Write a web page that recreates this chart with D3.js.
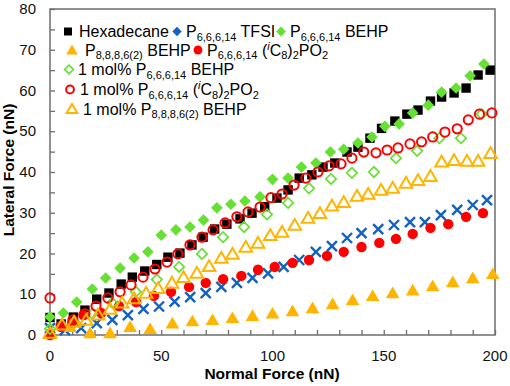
<!DOCTYPE html>
<html>
<head>
<meta charset="utf-8">
<script src="https://cdn.jsdelivr.net/npm/d3@7"></script>
<style>
  body { margin: 0; background: #fff; }
  svg { font-family: "Liberation Sans", Arial, sans-serif; }
</style>
</head>
<body>
<svg id="chart" width="510" height="386"></svg>
<script>
// data (normal force nN -> lateral force nN)
var hexX = [0,5,10.5,15.7,21,26.5,32,37,42.6,48,53,58.4,63.8,68.8,74,79.5,85.4,90.8,96.5,102,107,112,117.7,122.7,128,133.5,138.4,143.8,149,155,160.4,165.4,171,176,181.6,187,192.4,197.8];
var hexY = [4.3,2.7,4.4,6.1,8.8,10.3,12.5,14.2,15.7,17.3,19.1,20.1,22.1,24,26,27.2,28.5,29.9,31.5,33.6,35.6,38.5,39.3,41.2,42.2,44.9,46.1,48.3,50.7,52.5,54.2,55.2,57.4,58.4,59.4,60.6,63.8,65];

var tfsiX = [0,6.7,14,21,28,35,42,49,56,63,70,77,84,91,98,105,112,119.5,126.7,133.5,140,147.5,154.6,161.8,168.5,175.7,183,190,196.4];
var tfsiY = [1.7,1.2,1.7,2.9,3.7,4.9,6.4,7.0,8.2,9.3,10.3,11.8,12.8,14,15.1,16.7,18.4,20.4,21.8,23.8,25,26,27,27.7,27.7,29.4,30.7,31.9,33.1];

var behpX = [0,6,12,19,25,31.5,37.8,44,50,56.6,62.9,69,75,81.3,87.6,94.4,100,107,113,119.5,126,132,138.4,144.7,150.5,156.9,163,170,176,182.5,188.8,195];
var behpY = [4.4,5.4,8.1,11.3,14,16.4,18.9,20.4,24.5,25.8,26.5,28.2,31.2,32.1,32.9,33.9,38.2,38.5,41.2,42.2,44.9,45.6,47.1,48.6,51.2,51.8,54.5,56.4,59.6,60.6,63.6,66.5];

var p8X = [0,9,18,27,36,45,55,64,73,82,91,100,109,118,127,136,145,154,163,172,181,190,199];
var p8Y = [0.3,2,0.5,0.5,2,1.5,2.9,3.4,3.7,4.2,4.7,5.3,5.9,6.6,7.6,8.6,9.6,10.3,11,12,13,14,15];

var ic8X = [0,5,10,15,23,31,38.7,46.7,54.4,62.5,70,77.8,86,93.5,101,109,116.4,124.5,132,140,148,155.5,163,171,179,187,194.6];
var ic8Y = [0,2,3.0,4.9,5.4,7.1,8.1,9.6,10.6,11.8,12.8,13.7,14.5,16,16.7,17.7,18.4,19.4,20.4,21.6,22.6,23.6,24.8,26.3,27.2,29,29.9];

var behp1X = [0,10.8,19,28,38.6,48,58,68.3,77.8,87.2,97.5,107,116.4,126.3,135.7,145.6,155.5,165,175,184.7,194];
var behp1Y = [1.5,3.2,5.2,7.9,10.6,13.6,16.7,19.9,24,26.5,29.6,32.4,36,38.3,39.8,40,43.4,45.2,48.3,48.3,54.2];

var ic81X = [0,5,10.3,15.7,20.7,26,31.5,36.4,41.8,47.2,52.6,57.5,62.9,68.3,73.3,78.7,84,89,94.4,99.3,104.3,109.7,115,120.4,125.4,130.8,135.7,141,146.5,151.5,156.4,161.8,167,172,177.5,183,188,193,198.6];
var ic81Y = [9.1,2.2,3.7,5.2,7.1,9.1,10.6,12.3,14.2,16.2,17.9,19.9,22.1,24,25.8,27.5,29,30.2,31.4,33.7,34.6,36.8,38.5,40,41.5,42,43.4,44.9,44.7,45.4,45.9,46.9,47.4,48.6,49.8,50.6,52.8,54.2,54.5];

var p81X = [0,5.4,10.8,16.2,21.6,27,32.4,37.8,43.2,48.6,54.8,60,66,71.5,77,82,88,93.5,99,104.3,110,116,121.3,126.7,132,138,143,148.8,154,160,165.4,171,176,181.6,187.4,192.4,198];
var p81Y = [0.5,2.5,3.2,3.7,5,6.4,7.9,9,10.3,11.5,12.8,14.2,15.2,16.9,18.9,19.9,21.6,22.6,24.5,25.3,27,28.7,29.9,31.7,32.6,34.1,34.6,35.6,36.1,37.3,38,39,42.5,42.9,42.7,42.7,44.6];

var xTicks = [0,50,100,150,200];
var yTicks = [0,10,20,30,40,50,60,70,80];

var BLUE = "#1462c0", GREEN = "#66e033", RED = "#ff0000", ORANGE = "#ffb400";

var svg = d3.select("#chart");
var plotL = 50, plotR = 495, plotT = 9, plotB = 335;

var x = d3.scaleLinear().domain([0, 200]).range([plotL, plotR]);
var y = d3.scaleLinear().domain([0, 80]).range([plotB, plotT]);

// marker shapes, s = half size
var shapes = {
  square: function (s) { return "M" + (-s) + "," + (-s) + "h" + 2*s + "v" + 2*s + "h" + (-2*s) + "Z"; },
  diamond: function (s) { return "M0," + (-s) + "L" + s + ",0L0," + s + "L" + (-s) + ",0Z"; },
  triangle: function (s) { return "M0," + (-s) + "L" + (s*1.05) + "," + (s*0.8) + "L" + (-s*1.05) + "," + (s*0.8) + "Z"; },
  cross: function (s) { return "M" + (-s) + "," + (-s) + "L" + s + "," + s + "M" + s + "," + (-s) + "L" + (-s) + "," + s; },
  circle: function (s) { return d3.arc()({innerRadius: 0, outerRadius: s, startAngle: 0, endAngle: 2 * Math.PI}); }
};

var series = [
  { xs: hexX,   ys: hexY,   shape: "square",   size: 4.7, fill: "#000", stroke: "none", sw: 0 },
  { xs: tfsiX,  ys: tfsiY,  shape: "cross",    size: 5,   fill: "none", stroke: BLUE, sw: 2.4 },
  { xs: behpX,  ys: behpY,  shape: "diamond",  size: 5.8, fill: GREEN, stroke: "none", sw: 0 },
  { xs: p8X,    ys: p8Y,    shape: "triangle", size: 6.5, fill: ORANGE, stroke: "none", sw: 0 },
  { xs: ic8X,   ys: ic8Y,   shape: "circle",   size: 5.2, fill: RED, stroke: "none", sw: 0 },
  { xs: behp1X, ys: behp1Y, shape: "diamond",  size: 5.2, fill: "none", stroke: GREEN, sw: 1.7 },
  { xs: ic81X,  ys: ic81Y,  shape: "circle",   size: 4.6, fill: "none", stroke: RED, sw: 2 },
  { xs: p81X,   ys: p81Y,   shape: "triangle", size: 6,   fill: "none", stroke: ORANGE, sw: 2 }
];

// axes, ticks pointing inward
var axisCol = "#6e6e6e";
svg.append("rect").attr("x", plotL).attr("y", plotT)
  .attr("width", plotR - plotL).attr("height", plotB - plotT)
  .attr("fill", "none").attr("stroke", axisCol).attr("stroke-width", 1.5);

var gx = svg.append("g").attr("transform", "translate(0," + plotB + ")")
  .call(d3.axisBottom(x).tickValues(d3.range(0, 201, 10)).tickSize(-5).tickFormat(""));
var gy = svg.append("g").attr("transform", "translate(" + plotL + ",0)")
  .call(d3.axisLeft(y).tickValues(d3.range(0, 81, 5)).tickSize(-5).tickFormat(""));
[gx, gy].forEach(function (g) {
  g.select(".domain").remove();
  g.selectAll(".tick line").attr("stroke", axisCol).attr("stroke-width", 1.3);
});

svg.append("g").selectAll("text").data(xTicks).enter().append("text")
  .attr("x", function (d) { return x(d); }).attr("y", 361)
  .attr("text-anchor", "middle").attr("font-size", 15).attr("fill", "#111")
  .text(function (d) { return d; });
svg.append("g").selectAll("text").data(yTicks).enter().append("text")
  .attr("x", 36).attr("y", function (d) { return y(d) + 5; })
  .attr("text-anchor", "end").attr("font-size", 15).attr("fill", "#111")
  .text(function (d) { return d; });

svg.append("text").attr("x", 272).attr("y", 379).attr("text-anchor", "middle")
  .attr("font-size", 15.5).attr("font-weight", "bold").text("Normal Force (nN)");
svg.append("text").attr("transform", "translate(14,170) rotate(-90)").attr("text-anchor", "middle")
  .attr("font-size", 15.5).attr("font-weight", "bold").text("Lateral Force (nN)");

// points
series.forEach(function (s) {
  svg.append("g").selectAll("path").data(s.xs).enter().append("path")
    .attr("transform", function (d, i) { return "translate(" + x(d) + "," + y(s.ys[i]) + ")"; })
    .attr("d", shapes[s.shape](s.size))
    .attr("fill", s.fill).attr("stroke", s.stroke).attr("stroke-width", s.sw);
});

// legend
function label(tx, ty, parts) {
  var t = svg.append("text").attr("x", tx).attr("y", ty).attr("font-size", 16).attr("fill", "#000");
  var shift = 0;
  parts.forEach(function (p) {
    var txt = p, mode = "n";
    if (Array.isArray(p)) { txt = p[0]; mode = p[1]; }
    var want = mode === "sub" ? 3.5 : mode === "sup" ? -6 : 0;
    var ts = t.append("tspan").attr("dy", want - shift).text(txt);
    if (mode !== "n") ts.attr("font-size", 11);
    if (mode === "sup") ts.attr("font-style", "italic");
    shift = want;
  });
}
function key(kx, ky, s) {
  svg.append("path").attr("transform", "translate(" + kx + "," + ky + ")")
    .attr("d", shapes[s.shape](s.size * 0.85))
    .attr("fill", s.fill).attr("stroke", s.stroke).attr("stroke-width", s.sw);
}

var tfsiKey = { shape: "diamond", size: 5.5, fill: BLUE, stroke: "none", sw: 0 };

key(68, 31.5, series[0]); label(79, 37, ["Hexadecane"]);
key(177, 31.5, tfsiKey); label(186, 37, ["P", ["6,6,6,14", "sub"], " TFSI"]);
key(281, 31.5, series[2]); label(290, 37, ["P", ["6,6,6,14", "sub"], " BEHP"]);

key(72, 50, series[3]); label(85, 55.5, ["P", ["8,8,8,6(2)", "sub"], " BEHP"]);
key(198, 50, series[4]); label(207, 55.5, ["P", ["6,6,6,14", "sub"], " (", ["i", "sup"], "C", ["8", "sub"], ")", ["2", "sub"], "PO", ["2", "sub"]]);

key(69, 69.5, series[5]); label(78, 75, ["1 mol% P", ["6,6,6,14", "sub"], " BEHP"]);
key(70, 89.5, series[6]); label(80, 95, ["1 mol% P", ["6,6,6,14", "sub"], " (", ["i", "sup"], "C", ["8", "sub"], ")", ["2", "sub"], "PO", ["2", "sub"]]);
key(72, 109, series[7]); label(83, 114.5, ["1 mol% P", ["8,8,8,6(2)", "sub"], " BEHP"]);
</script>
</body>
</html>
